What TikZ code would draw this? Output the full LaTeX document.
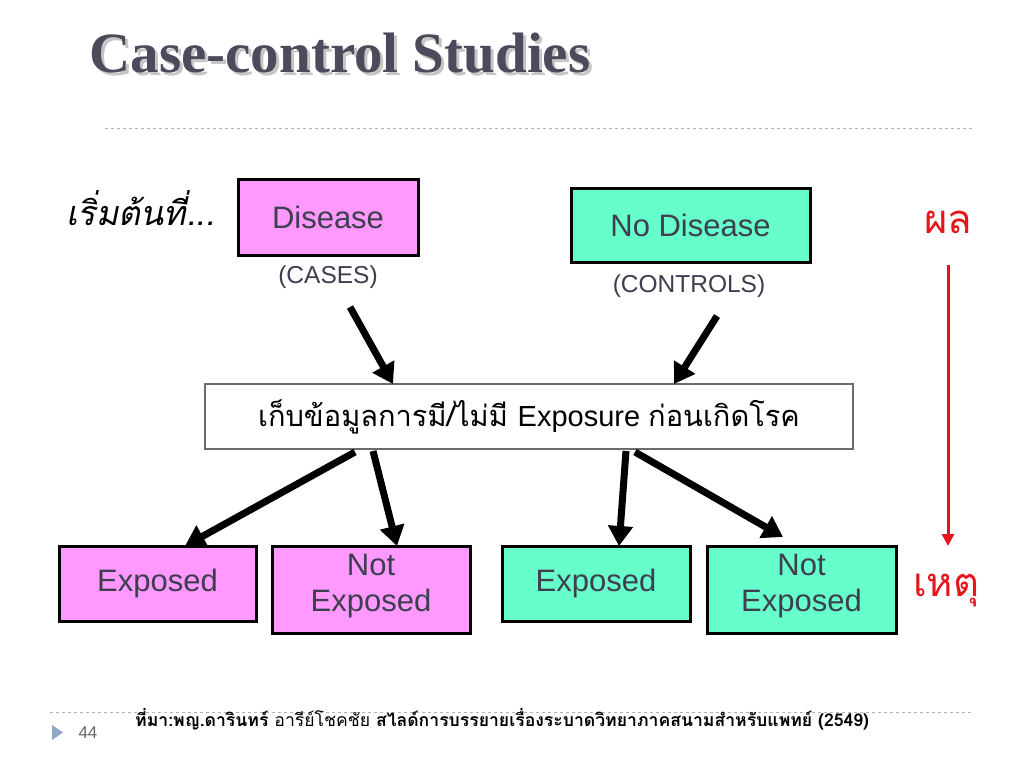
\documentclass[tikz,border=0pt]{standalone}
\usepackage{fontspec}
\usetikzlibrary{arrows.meta}
\setmainfont{Liberation Sans}
\newfontfamily\titlefont{Liberation Serif}
\newfontfamily\thaifont[Script=Thai]{Loma}
\newfontfamily\thaislant[Script=Thai,FakeSlant=0.2]{Loma}
\definecolor{pinkbox}{HTML}{FF99FF}
\definecolor{greenbox}{HTML}{66FFCC}
\definecolor{boxtext}{HTML}{3E3E4E}
\definecolor{titlecol}{HTML}{4B4B5B}
\definecolor{redtxt}{HTML}{E8141B}
\definecolor{tri}{HTML}{8FA8C8}
\tikzset{
  cbox/.style={draw=black, line width=3pt, minimum width=#1, inner sep=0pt, text=boxtext, font=\fontsize{31}{36}\selectfont, align=center},
  bigarrow/.style={line width=7pt, -{Triangle[length=20pt,width=24pt]}},
  sub/.style={text=boxtext, font=\fontsize{24.5}{28}\selectfont},
  dline/.style={draw=gray!60, dashed, line width=0.8pt}
}
\begin{document}
\begin{tikzpicture}[x=1pt,y=-1pt]
\useasboundingbox[fill=white] (0,0) rectangle (1024,768);
% title
\node[text=gray!45, font=\titlefont\bfseries\fontsize{57}{60}\selectfont, anchor=west] at (89,56) {Case-control Studies};
\node (title) [text=titlecol, font=\titlefont\bfseries\fontsize{57}{60}\selectfont, anchor=west] at (86,53) {Case-control Studies};
\draw[dline] (105,128) -- (972,128);
% start label
\node (start) [font=\thaislant\fontsize{34}{38}\selectfont, anchor=west, inner sep=0pt] at (66,208) {เริ่มต้นที่...};
% top boxes
\node (dis) [cbox=180pt, minimum height=76pt, fill=pinkbox] at (328,217) {Disease};
\node (cases) [sub] at (328,277) {(CASES)};
\node (nodis) [cbox=239pt, minimum height=74pt, fill=greenbox] at (690.5,225) {No Disease};
\node (controls) [sub] at (689,286) {(CONTROLS)};
% middle box
\node (mid) [draw=gray!85!black, line width=1.2pt, fill=white, minimum width=648pt, minimum height=65pt, inner sep=0pt, font=\fontsize{29}{32}\selectfont] at (529,416.5) {\thaifont เก็บข้อมูลการมี/ไม่มี \fontspec{Liberation Sans}Exposure \thaifont ก่อนเกิดโรค};
% bottom boxes
\node (e1) [cbox=197pt, minimum height=75pt, fill=pinkbox] at (157.5,583.5) {Exposed};
\node (n1) [cbox=198pt, minimum height=87pt, fill=pinkbox] at (371,589.5) {};
\node (n1t) [text=boxtext, font=\fontsize{31}{36}\selectfont, align=center, inner sep=0pt] at (371,586.5) {Not\\Exposed};
\node (e2) [cbox=188pt, minimum height=75pt, fill=greenbox] at (596,583.5) {Exposed};
\node (n2) [cbox=189pt, minimum height=87pt, fill=greenbox] at (801.5,589.5) {};
\node (n2t) [text=boxtext, font=\fontsize{31}{36}\selectfont, align=center, inner sep=0pt] at (801.5,586.5) {Not\\Exposed};
% arrow coordinates
\coordinate (a1s) at (350,307);
\coordinate (a1e) at (393,384);
\coordinate (a2s) at (717,316);
\coordinate (a2e) at (674,384);
\coordinate (b1s) at (355,452);
\coordinate (b1e) at (185,546);
\coordinate (b2s) at (373,451);
\coordinate (b2e) at (397,546);
\coordinate (b3s) at (626,451);
\coordinate (b3e) at (619,546);
\coordinate (b4s) at (635,452);
\coordinate (b4e) at (783,537);
\draw[bigarrow] (a1s) -- (a1e);
\draw[bigarrow] (a2s) -- (a2e);
\draw[bigarrow] (b1s) -- (b1e);
\draw[bigarrow] (b2s) -- (b2e);
\draw[bigarrow] (b3s) -- (b3e);
\draw[bigarrow] (b4s) -- (b4e);
% red arrow
\node (effect) [text=redtxt, font=\thaifont\fontsize{40}{44}\selectfont] at (948,222) {ผล};
\node (cause) [text=redtxt, font=\thaifont\fontsize{40}{44}\selectfont] at (946,590) {เหตุ};
\coordinate (rs) at (948,265);
\coordinate (re) at (948,546);
\draw[draw=redtxt, line width=3pt, -{Triangle[length=12pt,width=12pt]}] (rs) -- (re);
% footer
\draw[dline] (50,712) -- (972,712);
\fill[tri] (52,725) -- (63,732.5) -- (52,740) -- cycle;
\node (page) [text=gray!80!black, font=\fontsize{17}{19}\selectfont] at (88,733) {44};
\node (src) [anchor=west, inner sep=0pt, font=\thaifont\fontsize{17.6}{19}\selectfont] at (135,719) {\bfseries ที่มา:พญ.ดารินทร์ \mdseries อารีย์โชคชัย \bfseries สไลด์การบรรยายเรื่องระบาดวิทยาภาคสนามสำหรับแพทย์ (2549)};
\end{tikzpicture}
\end{document}
